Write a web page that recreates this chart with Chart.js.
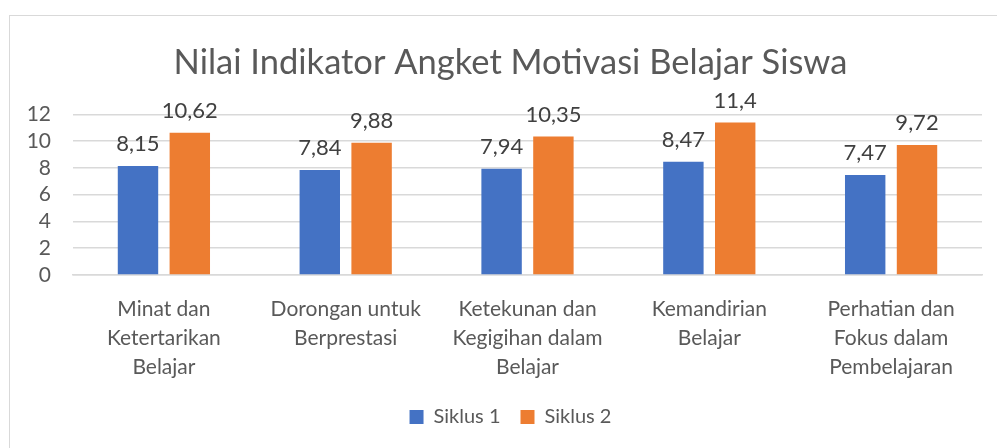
<!DOCTYPE html>
<html>
<head>
<meta charset="utf-8">
<script src="https://cdn.jsdelivr.net/npm/chart.js@4"></script>
<style>
  html, body { margin: 0; padding: 0; background: #fff; overflow: hidden; }
  #box {
    position: absolute; left: 9px; top: 15px;
    width: 1001px; height: 450px;
    border: 1px solid #d9d9d9;
  }
  #chart { display: block; }
</style>
</head>
<body>
<div id="box"><canvas id="chart" width="1001" height="432"></canvas></div>
<script>
const categories = [
  ["Minat dan", "Ketertarikan", "Belajar"],
  ["Dorongan untuk", "Berprestasi"],
  ["Ketekunan dan", "Kegigihan dalam", "Belajar"],
  ["Kemandirian", "Belajar"],
  ["Perhatian dan", "Fokus dalam", "Pembelajaran"]
];
const siklus1 = [8.15, 7.84, 7.94, 8.47, 7.47];
const siklus2 = [10.62, 9.88, 10.35, 11.4, 9.72];
const yTicks = [0, 2, 4, 6, 8, 10, 12];

const FONT = "Lato, 'Open Sans', sans-serif";

// value labels above each bar, decimal comma
const barLabels = {
  id: "barLabels",
  afterDatasetsDraw(chart) {
    const c = chart.ctx;
    c.save();
    c.font = "22px " + FONT;
    c.fillStyle = "#404040";
    c.textAlign = "center";
    c.textBaseline = "middle";
    chart.data.datasets.forEach((ds, i) => {
      chart.getDatasetMeta(i).data.forEach((bar, j) => {
        c.fillText(String(ds.data[j]).replace(".", ","), bar.x, bar.y - 22);
      });
    });
    c.restore();
  }
};

new Chart(document.getElementById("chart"), {
  type: "bar",
  data: {
    labels: categories,
    datasets: [
      { label: "Siklus 1", data: siklus1, backgroundColor: "#4472C4" },
      { label: "Siklus 2", data: siklus2, backgroundColor: "#ED7D31" }
    ]
  },
  options: {
    responsive: false,
    animation: false,
    layout: { padding: { left: 0, right: 0, top: 0, bottom: 11 } },
    datasets: { bar: { categoryPercentage: 0.57, barPercentage: 0.78 } },
    plugins: {
      title: {
        display: true,
        text: "Nilai Indikator Angket Motivasi Belajar Siswa",
        color: "#595959",
        font: { family: FONT, size: 34.5, weight: "normal" },
        padding: { top: 26, bottom: 31 }
      },
      legend: {
        position: "bottom",
        labels: {
          color: "#595959",
          font: { family: FONT, size: 20 },
          boxWidth: 14, boxHeight: 14, padding: 20
        }
      },
      tooltip: { enabled: false }
    },
    scales: {
      x: {
        grid: { display: false },
        border: { color: "#d9d9d9", width: 1.5 },
        ticks: {
          color: "#595959",
          font: { family: FONT, size: 21, lineHeight: 1.38 },
          maxRotation: 0, autoSkip: false, padding: 12
        },
        afterFit(scale) { scale.height = 112; }
      },
      y: {
        min: 0, max: 12,
        afterBuildTicks(scale) { scale.ticks = yTicks.map(v => ({ value: v })); },
        grid: { color: "#d9d9d9", lineWidth: 1.5, drawTicks: false },
        border: { display: false },
        ticks: {
          color: "#595959",
          font: { family: FONT, size: 21 },
          padding: 22, autoSkip: false
        },
        afterFit(scale) { scale.width = 63; }
      },
      // empty right-hand spacer so the title and legend centre on the full box
      yRight: {
        position: "right",
        grid: { display: false },
        border: { display: false },
        ticks: { display: false },
        afterFit(scale) { scale.width = 29; }
      }
    }
  },
  plugins: [barLabels]
});
</script>
</body>
</html>
